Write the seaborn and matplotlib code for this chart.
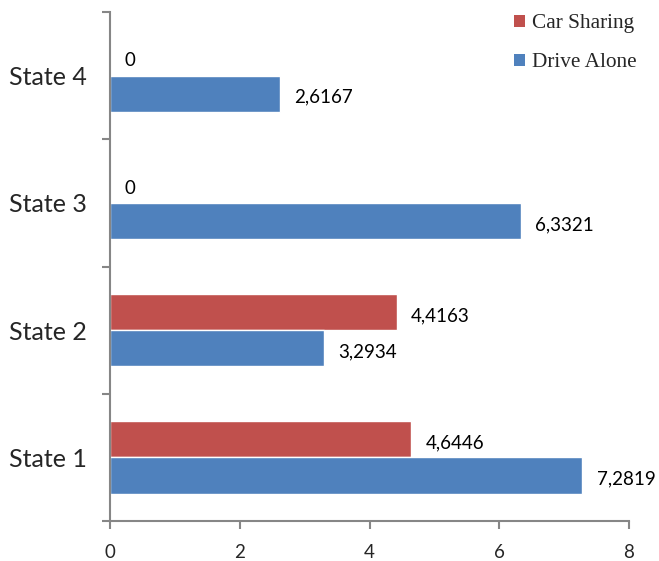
import matplotlib
matplotlib.use("Agg")
import matplotlib.pyplot as plt
import seaborn as sns
import pandas as pd
from matplotlib.patches import Patch
from matplotlib.ticker import FixedLocator

states = ["State 4", "State 3", "State 2", "State 1"]
car_sharing = [0.0, 0.0, 4.4163, 4.6446]
drive_alone = [2.6167, 6.3321, 3.2934, 7.2819]
series = ["Car Sharing", "Drive Alone"]
x_ticks = [0, 2, 4, 6, 8]

colors = {"Car Sharing": "#C0504D", "Drive Alone": "#4F81BD"}

df = pd.DataFrame({
    "state": states * 2,
    "value": car_sharing + drive_alone,
    "mode": [series[0]] * len(states) + [series[1]] * len(states),
})

sns.set_style("white")
plt.rcParams["font.family"] = ["Lato", "DejaVu Sans"]

fig = plt.figure(figsize=(6.59, 5.61), dpi=100)
ax = fig.add_axes([110 / 659, 1 - 521 / 561, 519 / 659, 509 / 561])

sns.barplot(data=df, y="state", x="value", hue="mode", order=states,
            hue_order=series, palette=colors, orient="h", width=0.57,
            saturation=1, legend=False, ax=ax)

# value labels to the right of each bar, decimal comma
for container in ax.containers:
    labels = [f"{b.get_width():.4f}".replace(".", ",") if b.get_width() else "0"
              for b in container]
    texts = ax.bar_label(container, labels=labels, padding=10.5, fontsize=13.5,
                         color="black")
    for t in texts:
        t.xyann = (10.5, -2.5)
        t.set_clip_on(False)

ax.set_xlim(0, 8)
ax.set_ylim(3.5, -0.5)
ax.set_xticks(x_ticks)
ax.set_xticklabels([str(t) for t in x_ticks], fontsize=13.5)
ax.set_xlabel("")
ax.set_ylabel("")
ax.tick_params(axis="y", which="major", length=0, labelsize=18, pad=17)
ax.yaxis.set_minor_locator(FixedLocator([-0.5, 0.5, 1.5, 2.5, 3.5]))
ax.tick_params(axis="y", which="minor", left=True, length=6, width=1.5, color="#868686",
               direction="out")
ax.tick_params(axis="x", which="major", bottom=True, length=6, width=1.5, color="#868686",
               direction="out", pad=10.5)

for side in ["top", "right"]:
    ax.spines[side].set_visible(False)
for side in ["left", "bottom"]:
    ax.spines[side].set_color("#868686")
    ax.spines[side].set_linewidth(1.5)

handles = [Patch(facecolor=colors[s], edgecolor="none", label=s) for s in series]
fig.legend(handles=handles, loc="upper left", bbox_to_anchor=(495 / 659, 1 + 5 / 561),
           frameon=False, handlelength=0.5, handleheight=0.5, handletextpad=0.35,
           labelspacing=0.95, prop={"family": "Liberation Serif", "size": 15.3})

fig.savefig("out.png", dpi=100)
